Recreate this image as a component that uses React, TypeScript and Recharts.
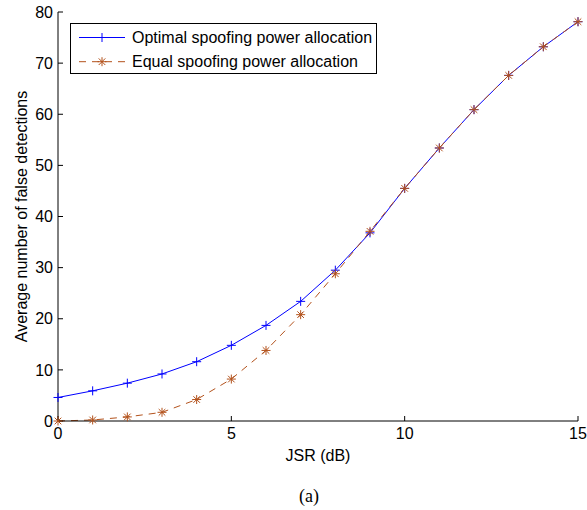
import React from "react";
import { LineChart, Line, XAxis, YAxis, Legend, Label } from "recharts";

const jsr = [0, 1, 2, 3, 4, 5, 6, 7, 8, 9, 10, 11, 12, 13, 14, 15];
const optimal = [4.6, 5.9, 7.4, 9.2, 11.6, 14.8, 18.7, 23.4, 29.5, 36.8, 45.5, 53.4, 60.9, 67.6, 73.2, 78.1];
const equal = [0, 0.2, 0.8, 1.7, 4.2, 8.2, 13.8, 20.8, 28.8, 37.1, 45.5, 53.4, 60.9, 67.6, 73.2, 78.1];
const xTicks = [0, 5, 10, 15];
const yTicks = [0, 10, 20, 30, 40, 50, 60, 70, 80];

const BLUE = "#0000ff";
const BROWN = "#b3521c";
const FONT = "'Liberation Sans', Arial, Helvetica, sans-serif";
const FS = 16;

const data = jsr.map((x, i) => ({ x, optimal: optimal[i], equal: equal[i] }));

const plusMark = (cx: number, cy: number, color: string, key?: string) => (
  <g key={key}>
    <line x1={cx - 4.5} y1={cy} x2={cx + 4.5} y2={cy} stroke={color} strokeWidth={1} />
    <line x1={cx} y1={cy - 4.5} x2={cx} y2={cy + 4.5} stroke={color} strokeWidth={1} />
  </g>
);

const starMark = (cx: number, cy: number, color: string, key?: string) => (
  <g key={key}>
    <line x1={cx - 4.5} y1={cy} x2={cx + 4.5} y2={cy} stroke={color} strokeWidth={1} />
    <line x1={cx} y1={cy - 4.5} x2={cx} y2={cy + 4.5} stroke={color} strokeWidth={1} />
    <line x1={cx - 3.3} y1={cy - 3.3} x2={cx + 3.3} y2={cy + 3.3} stroke={color} strokeWidth={1} />
    <line x1={cx - 3.3} y1={cy + 3.3} x2={cx + 3.3} y2={cy - 3.3} stroke={color} strokeWidth={1} />
  </g>
);

const series = [
  { key: "optimal", name: "Optimal spoofing power allocation", color: BLUE, dash: undefined, mark: plusMark },
  { key: "equal", name: "Equal spoofing power allocation", color: BROWN, dash: "7 6", mark: starMark },
];

const renderLegend = () => (
  <div
    style={{
      width: 307,
      height: 51,
      border: "1px solid #000",
      background: "#fff",
      boxSizing: "border-box",
    }}
  >
    <svg width={305} height={49} style={{ display: "block" }}>
      {series.map((s, i) => {
        const cy = 13.5 + i * 24.2;
        return (
          <g key={s.key}>
            <line x1={8} y1={cy} x2={54} y2={cy} stroke={s.color} strokeWidth={1} strokeDasharray={s.dash} />
            {s.mark(31, cy, s.color)}
            <text x={61} y={cy} dy="0.35em" fontFamily={FONT} fontSize={FS} fill="#000">
              {s.name}
            </text>
          </g>
        );
      })}
    </svg>
  </div>
);

export default function App() {
  const tickStyle = { fill: "#000", fontSize: FS, fontFamily: FONT };
  return (
    <div style={{ position: "absolute", left: 0, top: 0, background: "#fff" }}>
      <LineChart width={587} height={510} data={data} margin={{ top: 12, right: 9, left: 0, bottom: 59 }}>
        <XAxis
          dataKey="x"
          type="number"
          domain={[0, 15]}
          ticks={xTicks}
          tickSize={-5}
          tickMargin={12}
          height={30}
          stroke="#000"
          tick={tickStyle}
        >
          <Label value="JSR (dB)" position="bottom" offset={-1} fill="#000" fontSize={FS} fontFamily={FONT} />
          <Label
            value="(a)"
            position="bottom"
            offset={38}
            dx={-9}
            fill="#000"
            fontSize={18}
            fontFamily="'Liberation Serif', 'Times New Roman', serif"
          />
        </XAxis>
        <XAxis
          xAxisId="top"
          orientation="top"
          dataKey="x"
          type="number"
          domain={[0, 15]}
          ticks={xTicks}
          tickSize={-5}
          height={0}
          stroke="#000"
          tick={false}
        />
        <YAxis
          type="number"
          domain={[0, 80]}
          ticks={yTicks}
          tickSize={-5}
          tickMargin={10}
          width={58}
          stroke="#000"
          tick={tickStyle}
          label={{
            value: "Average number of false detections",
            angle: -90,
            position: "insideLeft",
            offset: 21,
            fill: "#000",
            fontSize: FS,
            fontFamily: FONT,
            style: { textAnchor: "middle" },
          }}
        />
        <YAxis
          yAxisId="right"
          orientation="right"
          type="number"
          domain={[0, 80]}
          ticks={yTicks}
          tickSize={-5}
          width={0}
          stroke="#000"
          tick={false}
        />
        <Legend
          layout="vertical"
          align="center"
          verticalAlign="middle"
          wrapperStyle={{ left: 70, top: 23, width: 307 }}
          content={renderLegend}
        />
        {series.map((s) => (
          <Line
            key={s.key}
            dataKey={s.key}
            name={s.name}
            type="linear"
            stroke={s.color}
            strokeWidth={1}
            strokeDasharray={s.dash}
            isAnimationActive={false}
            dot={(p: any) => s.mark(p.cx, p.cy, s.color, `${s.key}-${p.index}`)}
            activeDot={false}
          />
        ))}
      </LineChart>
    </div>
  );
}
